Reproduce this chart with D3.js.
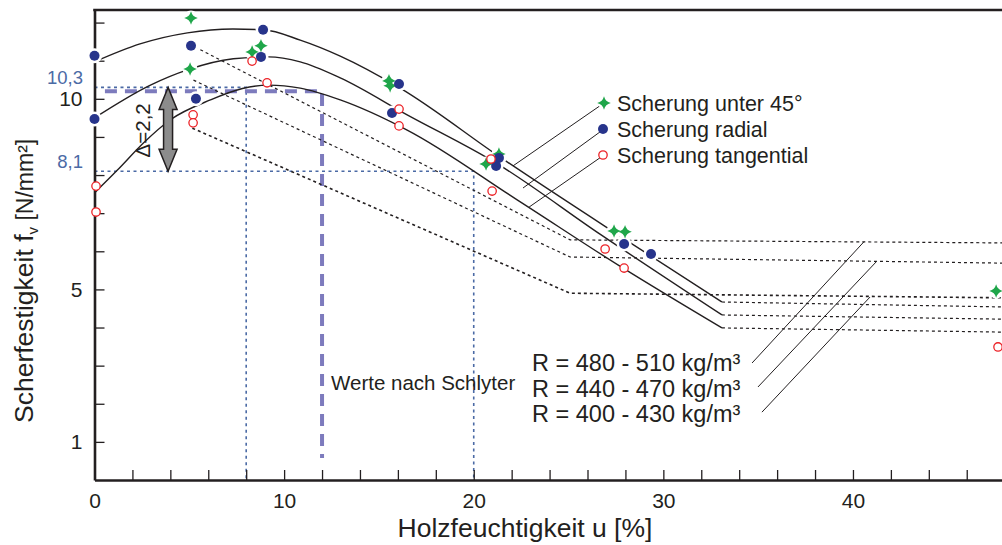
<!DOCTYPE html>
<html>
<head>
<meta charset="utf-8">
<script src="https://cdn.jsdelivr.net/npm/d3@7"></script>
<style>
  body { margin: 0; background: #fff; }
  svg { display: block; font-family: "Liberation Sans", Arial, sans-serif; }
</style>
</head>
<body>
<div id="chart"></div>
<script>
// Scherfestigkeit über Holzfeuchtigkeit – Messwerte, Ausgleichskurven, Werte nach Schlyter

// axis ticks
const xTicks = d3.range(0, 47, 2);
const xLabels = [0, 10, 20, 30, 40];
const yTicks = d3.range(1, 13);
const yLabels = [1, 5, 10];

// solid fit curves [u %, fv N/mm²], one per density class
const curveHigh = [[0, 10.97], [2.4, 11.44], [4.9, 11.73], [7.3, 11.83], [8.9, 11.81], [10.85, 11.54], [12.96, 11.12], [16.12, 10.28], [21.39, 8.47], [27.71, 6.40], [33.09, 4.67]];
const curveMid = [[0, 9.50], [2.95, 10.36], [4.9, 10.76], [7.32, 11.05], [9.17, 11.10], [10.85, 10.97], [12.96, 10.55], [16.49, 9.58], [21.23, 8.30], [26.66, 6.45], [33.09, 4.33]];
const curveLow = [[0, 7.53], [1.21, 8.13], [2.58, 8.84], [4.0, 9.45], [6.11, 9.97], [7.8, 10.27], [9.2, 10.36], [10.85, 10.28], [12.96, 9.97], [16.49, 9.18], [22.29, 7.35], [27.71, 5.61], [33.09, 3.99]];

// dotted continuation above fibre saturation
const tailHigh = [[33.09, 4.67], [47.86, 4.54]];
const tailMid = [[33.09, 4.33], [47.86, 4.22]];
const tailLow = [[33.09, 3.99], [47.86, 3.88]];

// Werte nach Schlyter (dotted)
const schlyterHigh = [[5.3, 11.36], [25.08, 6.30], [47.86, 6.22]];
const schlyterMid = [[5.22, 10.49], [25.08, 5.85], [47.86, 5.69]];
const schlyterLow = [[5.16, 9.23], [25.08, 4.90], [47.86, 4.78]];

// measurements
const shear45 = [[5.09, 12.12], [5.04, 10.78], [8.31, 11.23], [8.78, 11.39], [15.53, 10.47], [15.59, 10.34], [21.33, 8.55], [20.65, 8.29], [27.4, 6.53], [27.98, 6.51], [47.55, 4.96]];
const shearRadial = [[0, 11.13], [0, 9.47], [5.09, 11.39], [5.35, 10.0], [8.89, 11.81], [8.78, 11.10], [16.06, 10.39], [15.69, 9.63], [21.33, 8.45], [21.18, 8.24], [27.93, 6.19], [29.35, 5.93]];
const shearTangential = [[0.08, 7.71], [0.08, 7.03], [5.2, 9.58], [5.2, 9.37], [8.31, 10.99], [9.1, 10.42], [16.06, 9.73], [16.06, 9.29], [20.91, 8.42], [20.97, 7.58], [26.93, 6.06], [27.93, 5.56], [47.65, 3.49]];

// reference marks
const refLevels = [10.3, 8.1];
const refMoisture = [8, 20];
const schlyterLevel = 10.2;
const schlyterMoisture = 12;
const deltaLabel = 'Δ=2,2';

const legendNames = ['Scherung unter 45°', 'Scherung radial', 'Scherung tangential'];
const legendTargets = [[22.07, 8.24], [22.6, 7.66], [22.92, 7.16]];
const densityNames = ['R = 480 - 510 kg/m³', 'R = 440 - 470 kg/m³', 'R = 400 - 430 kg/m³'];
const densityLeaders = [[[34.68, 3.07], [40.58, 6.25]], [[34.99, 2.44], [41.22, 5.72]], [[35.2, 1.78], [40.9, 4.80]]];

const W = 1002, H = 545;
const ink = '#231f20';
const cGreen = '#1fa64a', cBlue = '#27348b', cRed = '#ec2227';
const cRef = '#4b6aa5', cSchly = '#7d7bbd';

const svg = d3.select('#chart').append('svg').attr('width', W).attr('height', H);

const x = d3.scaleLinear().domain([0, 47.86]).range([94.5, 1002]);
const y = d3.scaleLinear().domain([0, 12.33]).range([480, 10]);

const line = d3.line().x(d => x(d[0])).y(d => y(d[1]));
const smooth = d3.line().curve(d3.curveMonotoneX).x(d => x(d[0])).y(d => y(d[1]));

// --- reference lines
const ref = svg.append('g').attr('fill', 'none').attr('stroke', cRef)
  .attr('stroke-width', 1.6).attr('stroke-dasharray', '3,3.5');
refLevels.forEach((lv, i) => {
  ref.append('path').attr('d', line([[0, lv], [refMoisture[i], lv], [refMoisture[i], 0]]));
});

svg.append('path')
  .attr('d', line([[0.55, schlyterLevel], [schlyterMoisture, schlyterLevel], [schlyterMoisture, 0.58]]))
  .attr('fill', 'none').attr('stroke', cSchly).attr('stroke-width', 4)
  .attr('stroke-dasharray', '12,8');

// --- dotted Schlyter lines and tails
const dotted = svg.append('g').attr('fill', 'none').attr('stroke', ink)
  .attr('stroke-width', 1.2).attr('stroke-dasharray', '3,3');
[schlyterHigh, schlyterMid].forEach(s => dotted.append('path').attr('d', line(s)));
dotted.append('path').attr('d', line(schlyterLow)).attr('stroke-width', 1.6);
[tailHigh, tailMid, tailLow].forEach(s => dotted.append('path').attr('d', line(s)));

// --- fit curves
svg.append('g').attr('fill', 'none').attr('stroke', ink).attr('stroke-width', 1.4)
  .selectAll('path').data([curveHigh, curveMid, curveLow]).join('path')
  .attr('d', smooth);

// --- leader lines
const lead = svg.append('g').attr('stroke', ink).attr('stroke-width', 1).attr('fill', 'none');
densityLeaders.forEach(l => lead.append('path').attr('d', line(l)));

const legX = 604, legY = 103, legStep = 26;
legendTargets.forEach((t, i) => {
  lead.append('line')
    .attr('x1', legX).attr('y1', legY + i * legStep)
    .attr('x2', x(t[0])).attr('y2', y(t[1]));
});

// --- axes
const xAxis = svg.append('g').attr('transform', `translate(0,${y(0)})`)
  .call(d3.axisBottom(x).tickValues(xTicks).tickSize(-10).tickSizeOuter(0).tickPadding(13)
    .tickFormat(d => xLabels.includes(d) ? d : ''));
const yAxis = svg.append('g').attr('transform', `translate(${x(0)},0)`)
  .call(d3.axisLeft(y).tickValues(yTicks).tickSize(-10).tickSizeOuter(0).tickPadding(12)
    .tickFormat(d => yLabels.includes(d) ? d : ''));
[xAxis, yAxis].forEach(a => {
  a.attr('font-family', null).attr('font-size', 21);
  a.select('.domain').attr('stroke', ink).attr('stroke-width', 2.6);
  a.selectAll('.tick line').attr('stroke', ink).attr('stroke-width', 1.3);
  a.selectAll('.tick text').attr('fill', ink);
});
svg.append('line').attr('x1', x(0) - 1.3).attr('x2', W).attr('y1', y(12.33)).attr('y2', y(12.33))
  .attr('stroke', ink).attr('stroke-width', 2.6);

// --- markers
const star4 = {
  draw(ctx, size) {
    const r = Math.sqrt(size), k = r * 0.2;
    ctx.moveTo(0, -r);
    ctx.quadraticCurveTo(k, -k, r, 0);
    ctx.quadraticCurveTo(k, k, 0, r);
    ctx.quadraticCurveTo(-k, k, -r, 0);
    ctx.quadraticCurveTo(-k, -k, 0, -r);
    ctx.closePath();
  }
};
const starPath = d3.symbol().type(star4).size(46);

const halo = svg.append('g').attr('fill', '#fff');
halo.selectAll('circle').data(shearRadial.concat(shear45)).join('circle')
  .attr('cx', d => x(d[0])).attr('cy', d => y(d[1])).attr('r', 7.5);

svg.append('g').selectAll('path').data(shear45).join('path')
  .attr('transform', d => `translate(${x(d[0])},${y(d[1])})`)
  .attr('d', starPath).attr('fill', cGreen);
svg.append('g').selectAll('circle').data(shearRadial).join('circle')
  .attr('cx', d => x(d[0])).attr('cy', d => y(d[1])).attr('r', 5)
  .attr('fill', cBlue);
svg.append('g').selectAll('circle').data(shearTangential).join('circle')
  .attr('cx', d => x(d[0])).attr('cy', d => y(d[1])).attr('r', 4.2)
  .attr('fill', '#fff').attr('stroke', cRed).attr('stroke-width', 1.3);

// --- legend
const leg = svg.append('g');
leg.append('circle').attr('cx', legX).attr('cy', legY).attr('r', 6).attr('fill', '#fff');
leg.append('path').attr('transform', `translate(${legX},${legY})`).attr('d', starPath).attr('fill', cGreen);
leg.append('circle').attr('cx', legX - 1).attr('cy', legY + legStep).attr('r', 5).attr('fill', cBlue);
leg.append('circle').attr('cx', legX - 1).attr('cy', legY + 2 * legStep).attr('r', 4.2)
  .attr('fill', '#fff').attr('stroke', cRed).attr('stroke-width', 1.3);
leg.selectAll('text').data(legendNames).join('text')
  .attr('x', legX + 13).attr('y', (d, i) => legY + 7.5 + i * legStep)
  .attr('font-size', 21.5).attr('fill', ink).text(d => d);

// density labels
svg.append('g').selectAll('text').data(densityNames).join('text')
  .attr('x', 532).attr('y', (d, i) => 371 + i * 25.5)
  .attr('font-size', 23.5).attr('fill', ink).text(d => d);

svg.append('text').attr('x', x(schlyterMoisture) + 9).attr('y', 390)
  .attr('font-size', 20.5).attr('fill', ink).text('Werte nach Schlyter');

// reference labels
svg.append('g').selectAll('text').data(refLevels).join('text')
  .attr('x', 83).attr('y', d => y(d) - 3)
  .attr('text-anchor', 'end').attr('font-size', 18.5).attr('fill', cRef)
  .text(d => String(d).replace('.', ','));

// delta arrow
const ax = x(3.88), aTop = y(refLevels[0]), aBot = y(refLevels[1]);
const hl = 22, hw = 9, sw = 4.5;
const ap = d3.path();
ap.moveTo(ax, aTop);
ap.lineTo(ax + hw, aTop + hl); ap.lineTo(ax + sw, aTop + hl);
ap.lineTo(ax + sw, aBot - hl); ap.lineTo(ax + hw, aBot - hl);
ap.lineTo(ax, aBot);
ap.lineTo(ax - hw, aBot - hl); ap.lineTo(ax - sw, aBot - hl);
ap.lineTo(ax - sw, aTop + hl); ap.lineTo(ax - hw, aTop + hl);
ap.closePath();
svg.append('path').attr('d', ap.toString()).attr('fill', '#8c8c8c')
  .attr('stroke', ink).attr('stroke-width', 1.5).attr('stroke-linejoin', 'miter');

svg.append('text').attr('transform', `translate(150,${(aTop + aBot) / 2 + 1}) rotate(-90)`)
  .attr('text-anchor', 'middle').attr('font-size', 20.5).attr('fill', ink).text(deltaLabel);

// --- axis titles
svg.append('text').attr('x', 525).attr('y', 537).attr('text-anchor', 'middle')
  .attr('font-size', 26.5).attr('fill', ink).text('Holzfeuchtigkeit u [%]');

const yt = svg.append('text').attr('transform', 'translate(33,423) rotate(-90)').attr('fill', ink);
yt.append('tspan').attr('font-size', 26.5).text('Scherfestigkeit f');
yt.append('tspan').attr('font-size', 15).attr('dy', 5).text('v');
yt.append('tspan').attr('font-size', 23).attr('dy', -5).text(' [N/mm²]');
</script>
</body>
</html>
